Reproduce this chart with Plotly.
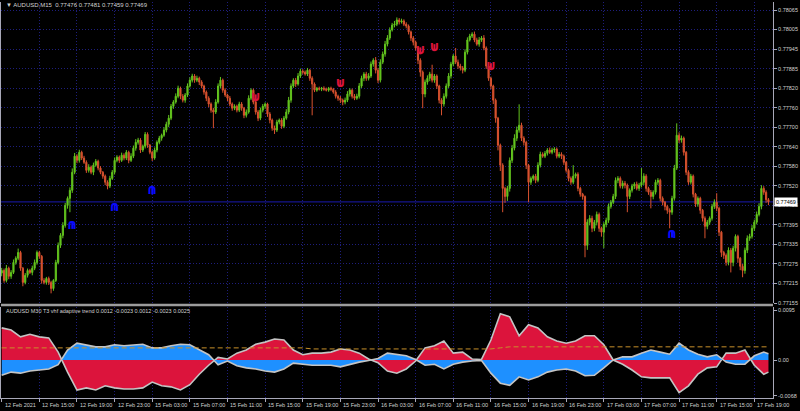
import plotly.graph_objects as go

# ---------------- data (prices in points above 0.77000) ----------------
BASE = 0.77
first_open = 248
closes = [
    256,225,263,238,250,281,294,312,263,219,241,256,250,263,281,312,300,225,219,231,
    219,200,225,281,334,365,396,458,480,505,561,611,598,623,605,592,567,577,561,583,
    595,574,561,549,530,518,542,561,598,608,598,614,605,623,598,611,636,654,661,630,
    642,679,645,623,605,630,654,667,676,692,710,729,766,779,797,822,797,785,801,829,
    847,860,847,853,841,829,810,791,773,754,748,779,829,847,816,801,791,773,760,766,
    754,773,760,738,748,791,816,779,748,729,754,766,773,742,723,698,692,717,723,704,
    729,748,785,829,847,835,860,875,872,866,878,853,835,816,822,819,822,819,816,822,
    819,810,797,791,785,779,785,804,816,797,791,797,829,853,866,853,860,897,909,878,
    847,903,928,959,978,1003,1018,1021,1034,1028,1031,1021,1015,997,978,965,947,909,872,804,
    841,853,866,847,860,829,785,773,797,829,860,897,922,903,891,885,878,934,972,984,
    990,972,959,972,978,947,891,853,829,785,729,645,583,511,486,511,598,636,667,692,
    707,667,654,583,530,542,549,536,583,617,611,620,630,623,630,633,611,617,611,592,
    567,542,530,549,555,511,493,486,334,406,418,387,406,430,387,375,399,412,455,468,
    486,536,542,518,527,521,486,505,518,524,511,521,530,549,511,499,486,499,530,536,
    480,468,455,443,437,480,574,676,661,667,623,561,530,549,493,462,480,443,418,393,
    406,418,455,468,449,375,312,303,281,319,281,325,362,294,269,256,319,356,362,387,
    406,430,455,511,499,476,469,
]
upper_wick = [
    8,6,10,5,7,9,6,12,5,4,7,6,5,8,9,6,5,4,7,5,
    6,5,4,8,9,7,10,8,6,9,12,10,6,8,5,7,6,9,5,8,
    7,5,6,4,5,6,8,7,9,6,5,8,6,7,5,9,8,10,7,6,
    5,7,6,4,5,8,6,7,5,9,8,10,7,6,9,8,5,7,6,8,
    9,7,6,8,5,6,4,5,6,5,7,9,8,10,5,6,4,7,5,6,
    5,7,6,4,8,9,6,5,7,6,8,7,5,4,6,5,8,7,5,6,
    7,9,10,8,6,7,9,8,6,5,7,4,6,5,4,5,4,6,5,4,
    5,4,6,5,7,5,8,9,6,5,7,8,9,8,6,7,9,8,6,10,
    7,9,8,10,9,8,7,10,8,6,7,5,6,5,4,6,5,4,6,5,
    8,9,7,29,6,5,4,6,9,8,9,7,6,25,8,7,6,9,8,7,
    6,8,7,9,6,9,5,4,5,4,5,4,5,6,5,8,9,10,12,11,
    65,8,6,5,4,6,5,7,9,8,6,7,6,8,7,6,5,7,6,5,
    4,5,6,34,5,6,5,4,3,9,10,8,7,9,6,5,7,8,9,7,
    8,9,7,6,8,7,5,6,7,6,8,7,44,9,6,5,7,6,8,7,
    5,6,4,5,6,8,10,37,9,8,5,4,6,7,5,4,6,5,4,6,
    7,6,8,9,28,5,4,5,6,9,7,8,6,5,4,7,8,9,8,10,
    8,9,10,10,7,6,5,
]
lower_wick = [
    10,7,6,9,8,5,7,6,8,12,6,7,5,9,6,7,8,10,6,7,
    8,15,7,5,6,8,9,7,10,43,8,6,9,7,6,5,8,7,6,9,
    5,7,6,8,9,10,6,5,7,6,8,5,7,6,9,5,6,8,7,9,
    6,7,8,6,9,5,7,6,8,5,7,9,6,8,5,6,9,7,8,6,
    5,7,8,6,9,7,8,9,10,8,50,6,5,7,8,6,9,7,8,6,
    7,6,8,9,7,5,6,7,8,9,6,7,8,9,10,8,12,6,7,8,
    6,5,7,8,6,9,5,6,7,5,6,8,97,6,5,4,6,5,4,5,
    6,5,7,8,9,10,7,6,8,7,6,5,7,6,9,8,7,6,8,10,
    9,7,6,8,7,6,5,7,6,8,5,6,7,8,9,10,8,12,14,44,
    10,8,9,7,8,9,10,35,8,7,6,8,7,6,9,8,10,6,7,5,
    6,7,5,8,6,7,9,8,10,12,14,16,18,74,20,14,10,8,7,9,
    8,9,10,12,62,8,7,9,6,7,5,6,7,5,6,8,7,6,9,8,
    7,9,8,6,7,9,8,10,37,14,10,12,9,10,11,14,50,9,8,7,
    6,8,9,7,8,10,49,8,7,9,6,8,7,9,10,8,37,9,7,8,
    9,10,12,11,50,8,7,6,9,8,10,9,8,7,10,9,8,11,10,37,
    9,8,7,8,9,12,14,11,10,9,31,12,10,14,12,21,10,9,8,7,
    8,7,6,9,8,10,10,
]

x_labels = ["12 Feb 2021", "12 Feb 15:00", "12 Feb 19:00", "12 Feb 23:00",
            "15 Feb 03:00", "15 Feb 07:00", "15 Feb 11:00", "15 Feb 15:00",
            "15 Feb 19:00", "15 Feb 23:00", "16 Feb 03:00", "16 Feb 07:00",
            "16 Feb 11:00", "16 Feb 15:00", "16 Feb 19:00", "16 Feb 23:00",
            "17 Feb 03:00", "17 Feb 07:00", "17 Feb 11:00", "17 Feb 15:00",
            "17 Feb 19:00"]
y_labels = ["0.77155", "0.77215", "0.77275", "0.77335", "0.77395", "0.77455",
            "0.77520", "0.77580", "0.77640", "0.77700", "0.77760", "0.77820",
            "0.77885", "0.77945", "0.78005", "0.78065"]
ind_labels = ["0.0095", "0.00", "-0.0068"]
ind_ticks = [0.0095, 0.0, -0.0068]

# indicator (M30 T3 vhf adaptive trend), sampled every 4 M15 bars + last bar
ind_red = [
    0.0061,0.0057,0.0044,0.0049,0.0044,0.0042,0.0015,-0.0023,-0.0057,-0.0053,
    -0.0057,-0.0049,-0.0053,-0.0055,-0.0055,-0.0053,-0.0042,-0.0049,-0.0051,-0.0057,
    -0.0047,-0.0027,-0.0010,0.0005,0.0002,0.0013,0.0019,0.0030,0.0034,0.0040,
    0.0038,0.0019,0.0010,0.0013,0.0013,0.0015,0.0021,0.0019,0.0013,0.0002,
    -0.0005,-0.0021,-0.0025,-0.0017,-0.0002,0.0023,0.0027,0.0036,0.0013,0.0015,
    0.0002,0.0001,0.0038,0.0088,0.0082,0.0046,0.0067,0.0061,0.0044,0.0036,
    0.0032,0.0036,0.0046,0.0046,0.0029,0.0000,-0.0008,-0.0019,-0.0032,-0.0034,
    -0.0034,-0.0034,-0.0062,-0.0049,-0.0027,-0.0015,-0.0013,0.0013,0.0013,0.0019,
    -0.0010,-0.0027,-0.0023,
]
ind_blue = [
    -0.0029,-0.0023,-0.0025,-0.0021,-0.0019,-0.0017,-0.0009,0.0019,0.0032,0.0029,
    0.0025,0.0025,0.0029,0.0027,0.0029,0.0030,0.0023,0.0023,0.0027,0.0030,
    0.0029,0.0019,0.0010,-0.0009,-0.0002,-0.0011,-0.0015,-0.0017,-0.0021,-0.0023,
    -0.0017,-0.0006,-0.0008,-0.0010,-0.0010,-0.0010,-0.0013,-0.0008,-0.0004,-0.0001,
    0.0003,0.0013,0.0011,0.0008,0.0001,-0.0010,-0.0008,-0.0017,-0.0008,-0.0004,
    -0.0002,-0.0001,-0.0025,-0.0044,-0.0048,-0.0032,-0.0038,-0.0032,-0.0023,-0.0019,
    -0.0017,-0.0021,-0.0030,-0.0029,-0.0015,0.0000,0.0006,0.0006,0.0013,0.0019,
    0.0015,0.0011,0.0032,0.0019,0.0011,0.0006,0.0010,-0.0004,-0.0008,-0.0008,
    0.0008,0.0015,0.0012,
]
ind_level = [
    0.0023,0.0023,0.0023,0.0023,0.0023,0.0023,0.0023,0.0023,0.0023,0.0023,
    0.0023,0.0023,0.0023,0.0023,0.0023,0.0023,0.0023,0.0023,0.0023,0.0023,
    0.0023,0.0023,0.0023,0.0023,0.0023,0.0023,0.0023,0.0023,0.0023,0.0023,
    0.0023,0.0023,0.0023,0.0021,0.0021,0.0021,0.0021,0.0021,0.0021,0.0021,
    0.0021,0.0021,0.0021,0.0021,0.0021,0.0021,0.0021,0.0021,0.0021,0.0021,
    0.0021,0.0021,0.0021,0.0023,0.0025,0.0025,0.0025,0.0025,0.0025,0.0025,
    0.0025,0.0025,0.0025,0.0025,0.0025,0.0025,0.0025,0.0025,0.0025,0.0025,
    0.0025,0.0025,0.0025,0.0025,0.0025,0.0025,0.0025,0.0025,0.0025,0.0025,
    0.0025,0.0025,0.0025,
]

buy_bars = [30, 48, 64, 285]
buy_prices = [0.77396, 0.77453, 0.77503, 0.77369]
sell_bars = [108, 144, 178, 184, 208]
sell_prices = [0.77792, 0.77837, 0.77938, 0.77948, 0.77889]

# ---------------- derived OHLC ----------------
n = len(closes)
opens_pts = [first_open] + closes[:-1]
def px(p):
    return round(BASE + p / 1e5, 5)
o = [px(v) for v in opens_pts]
c = [px(v) for v in closes]
h = [px(max(a, b) + w) for a, b, w in zip(opens_pts, closes, upper_wick)]
l = [px(min(a, b) - w) for a, b, w in zip(opens_pts, closes, lower_wick)]
idx = list(range(n))
ind_x = list(range(0, n - 2, 4)) + [n - 1]

# ---------------- geometry ----------------
W, H = 800, 411
PL, PR, PT, PB = 1, 773, 2, 398          # plot area in px
BAR_PX = 2.352
BAR0_PX = 1.7
xr0 = -(BAR0_PX - PL) / BAR_PX
xr1 = xr0 + (PR - PL) / BAR_PX
ph = PB - PT
def ypaper(ypx):
    return (PB - ypx) / ph

k = (0.78065 - 0.77155) / 293.0
main_top = 0.78065 + (10 - 2) * k
main_bot = 0.77155
step = (0.78065 - 0.77155) / 15
y_tickvals = [0.77155 + i * step for i in range(16)]
ind_scale = 0.00019
ind_top = (360 - 307) * ind_scale
ind_bot = -(398 - 360) * ind_scale

BULL = "#63C51E"
BEAR = "#D9522F"
GRID = "#1E1E7C"
AX = "#A8A8B8"
TXT = "#D2D2D2"
FONT = "Liberation Sans"

fig = go.Figure()

fig.add_trace(go.Candlestick(
    x=idx, open=o, high=h, low=l, close=c,
    increasing=dict(line=dict(color=BULL, width=1), fillcolor=BULL),
    decreasing=dict(line=dict(color=BEAR, width=1), fillcolor=BEAR),
    whiskerwidth=0, xaxis="x", yaxis="y", hoverinfo="skip", showlegend=False,
))

# signal glyphs: arch + centre stem
fig.add_trace(go.Scatter(
    x=buy_bars, y=buy_prices, mode="text", text=["∩"] * len(buy_bars),
    textfont=dict(color="#0A0AFF", size=14, family="DejaVu Sans", weight="bold"),
    xaxis="x", yaxis="y", hoverinfo="skip", showlegend=False,
))
fig.add_trace(go.Scatter(
    x=buy_bars, y=buy_prices, mode="markers",
    marker=dict(symbol="line-ns", size=5, line=dict(color="#0A0AFF", width=2)),
    xaxis="x", yaxis="y", hoverinfo="skip", showlegend=False,
))
fig.add_trace(go.Scatter(
    x=sell_bars, y=sell_prices, mode="text", text=["∪"] * len(sell_bars),
    textfont=dict(color="#DC143C", size=14, family="DejaVu Sans", weight="bold"),
    xaxis="x", yaxis="y", hoverinfo="skip", showlegend=False,
))
fig.add_trace(go.Scatter(
    x=sell_bars, y=sell_prices, mode="markers",
    marker=dict(symbol="line-ns", size=5, line=dict(color="#DC143C", width=2)),
    xaxis="x", yaxis="y", hoverinfo="skip", showlegend=False,
))

# indicator panel
fig.add_trace(go.Scatter(
    x=ind_x, y=ind_red, mode="lines", fill="tozeroy", fillcolor="#DC143C",
    line=dict(color="#C4C4C4", width=1.6), xaxis="x2", yaxis="y2",
    hoverinfo="skip", showlegend=False,
))
fig.add_trace(go.Scatter(
    x=ind_x, y=ind_blue, mode="lines", fill="tozeroy", fillcolor="#1E90FF",
    line=dict(color="#C4C4C4", width=1.6), xaxis="x2", yaxis="y2",
    hoverinfo="skip", showlegend=False,
))
fig.add_trace(go.Scatter(
    x=ind_x, y=ind_level, mode="lines",
    line=dict(color="#C8902A", width=1, dash="5px,3px"), xaxis="x2", yaxis="y2",
    hoverinfo="skip", showlegend=False,
))

xtick = list(range(0, n, 16))
common_x = dict(range=[xr0, xr1], tickvals=xtick, showticklabels=False,
                showgrid=True, gridcolor=GRID, griddash="1px,2px", gridwidth=1,
                zeroline=False, fixedrange=True)

shapes = [
    dict(type="line", xref="paper", yref="y", x0=0, x1=1,
         y0=c[-1], y1=c[-1], line=dict(color="#1A1AB0", width=1), layer="below"),
    dict(type="line", xref="paper", yref="paper", x0=0, x1=1,
         y0=ypaper(305), y1=ypaper(305), line=dict(color="#9C9C9C", width=2.5)),
]

annotations = []
for kk, lab in enumerate(x_labels):
    annotations.append(dict(
        x=xtick[kk], xref="x2", y=ypaper(404.5), yref="paper", text=lab,
        showarrow=False, xanchor="left", yanchor="middle", xshift=1,
        font=dict(size=5.5, color=TXT, family=FONT)))
annotations.append(dict(
    x=0, xref="paper", y=ypaper(5), yref="paper",
    text="▼ AUDUSD,M15  0.77476 0.77481 0.77459 0.77469",
    showarrow=False, xanchor="left", yanchor="middle", xshift=3,
    font=dict(size=6, color=TXT, family=FONT)))
annotations.append(dict(
    x=0, xref="paper", y=ypaper(311), yref="paper",
    text="AUDUSD M30 T3 vhf adaptive trend 0.0012 -0.0023 0.0012 -0.0023 0.0025",
    showarrow=False, xanchor="left", yanchor="middle", xshift=3,
    font=dict(size=5.5, color=TXT, family=FONT)))
annotations.append(dict(
    x=1, xref="paper", y=c[-1], yref="y", text="%.5f" % c[-1],
    showarrow=False, xanchor="left", yanchor="middle", xshift=1,
    bgcolor="#FFFFFF", borderpad=1,
    font=dict(size=5.5, color="#000000", family=FONT)))

fig.update_layout(
    width=W, height=H,
    margin=dict(l=PL, r=W - PR, t=PT, b=H - PB),
    paper_bgcolor="#000000", plot_bgcolor="#000000",
    showlegend=False, hovermode=False, dragmode=False,
    xaxis=dict(domain=[0, 1], anchor="y", rangeslider=dict(visible=False),
               ticks="", **common_x),
    xaxis2=dict(domain=[0, 1], anchor="y2", ticks="outside", ticklen=3,
                tickcolor=AX, showline=True, linecolor=AX, linewidth=1,
                **common_x),
    yaxis=dict(domain=[ypaper(303), 1], side="right", range=[main_bot, main_top],
               tickvals=y_tickvals, ticktext=y_labels, ticks="outside", ticklen=3,
               tickcolor=AX, tickfont=dict(size=5.5, color=TXT, family=FONT),
               showgrid=True, gridcolor=GRID, griddash="1px,2px", gridwidth=1,
               showline=True, mirror=True, linecolor=AX, linewidth=1,
               zeroline=False, fixedrange=True),
    yaxis2=dict(domain=[0, ypaper(307)], side="right", range=[ind_bot, ind_top],
                tickvals=ind_ticks, ticktext=ind_labels, ticks="outside", ticklen=3,
                tickcolor=AX, tickfont=dict(size=5.5, color=TXT, family=FONT),
                showgrid=False, showline=True, mirror=True, linecolor=AX,
                linewidth=1, zeroline=False, fixedrange=True),
    shapes=shapes, annotations=annotations,
)

fig.write_html(
    "out.html",
    config={"displayModeBar": False, "staticPlot": True},
    post_script="document.body.style.margin='0';document.body.style.padding='0';"
                "document.body.style.overflow='hidden';document.body.style.background='#000';",
)
